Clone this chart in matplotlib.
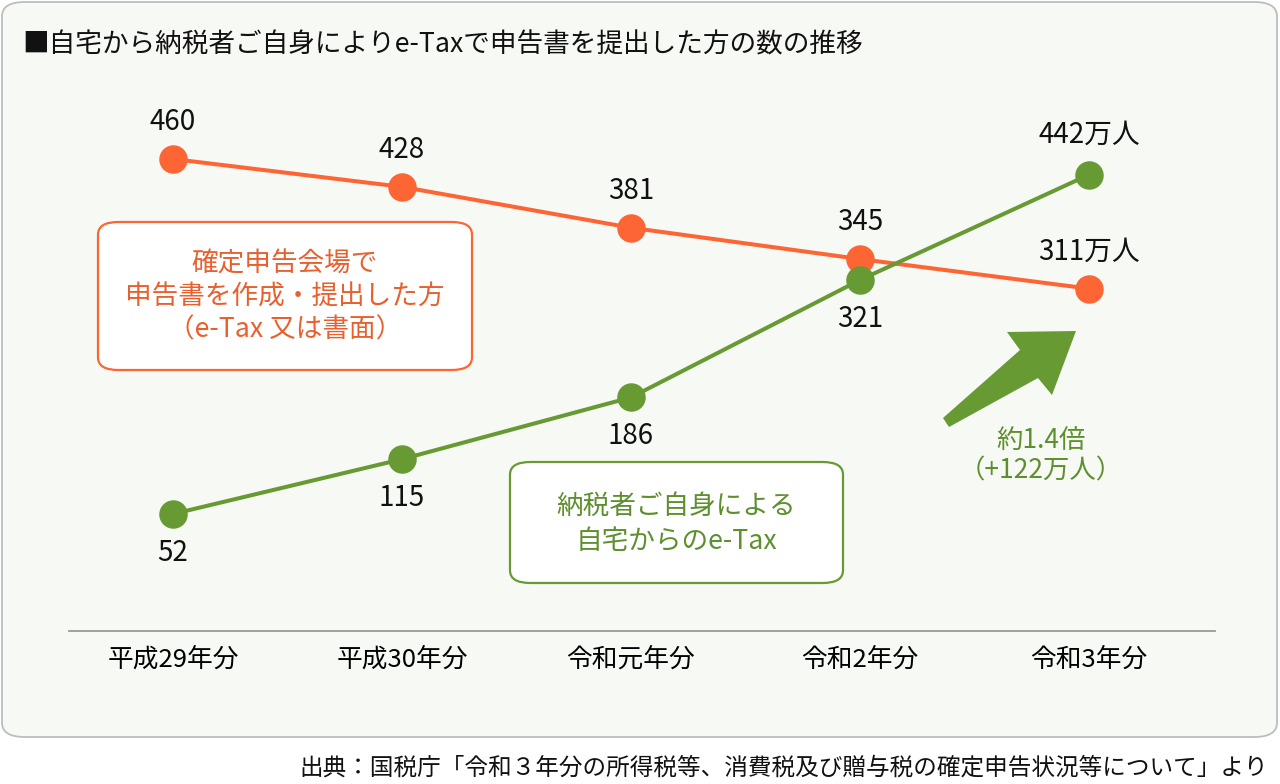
import matplotlib
matplotlib.use("Agg")
import matplotlib.pyplot as plt
from matplotlib.patches import FancyBboxPatch, Polygon

plt.rcParams['font.family'] = ['Noto Sans CJK JP', 'DejaVu Sans']

# データ（万人）
categories = ['平成29年分', '平成30年分', '令和元年分', '令和2年分', '令和3年分']
venue = [460, 428, 381, 345, 311]      # 確定申告会場で提出
home_etax = [52, 115, 186, 321, 442]   # 自宅からのe-Tax
venue_labels = ['460', '428', '381', '345', '311万人']
home_labels = ['52', '115', '186', '321', '442万人']

ORANGE = '#FD6535'
GREEN = '#679A33'
W, H = 1280, 784


def px(x, y):
    # ピクセル(左上原点) -> figure座標
    return x / W, 1 - y / H


fig = plt.figure(figsize=(12.8, 7.84), dpi=100)

# 背景パネル
panel = FancyBboxPatch(px(2, 737), 1275 / W, 735 / H,
                       boxstyle="round,pad=0,rounding_size=0.018",
                       transform=fig.transFigure, facecolor='#F7F9F4',
                       edgecolor='#BDBDBD', linewidth=1.3, zorder=-2)
fig.patches.append(panel)

ax = fig.add_axes([69 / W, 1 - 631 / H, 1146 / W, 571 / H])
ax.set_facecolor('none')
ax.set_zorder(3)
x = list(range(len(categories)))

ax.plot(x, venue, color=ORANGE, lw=2.9, marker='o', ms=19.5, zorder=3)
ax.plot(x, home_etax, color=GREEN, lw=2.9, marker='o', ms=19.5, zorder=4)

ax.set_xlim(-0.454, 4.55)
ax.set_ylim(-82.5, 573.8)

for i, (v, lab) in enumerate(zip(venue, venue_labels)):
    ax.annotate(lab, (i, v), xytext=(0, 26.5), textcoords='offset points',
                ha='center', va='center', fontsize=20, color='#111111')
for i, (v, lab) in enumerate(zip(home_etax, home_labels)):
    dy = 29 if i == len(home_etax) - 1 else -28
    ax.annotate(lab, (i, v), xytext=(0, dy), textcoords='offset points',
                ha='center', va='center', fontsize=20, color='#111111')

ax.set_xticks(x)
ax.set_xticklabels(categories, fontsize=18.5)
ax.tick_params(axis='x', length=0, pad=11)
ax.set_yticks([])
for s in ['top', 'left', 'right']:
    ax.spines[s].set_visible(False)
ax.spines['bottom'].set_color('#999999')
ax.spines['bottom'].set_linewidth(1.3)

# 凡例ボックス
box1 = FancyBboxPatch(px(98, 370), 374 / W, 148 / H,
                      boxstyle="round,pad=0,rounding_size=0.016",
                      transform=fig.transFigure, facecolor='white',
                      edgecolor=ORANGE, linewidth=1.6, zorder=1)
fig.patches.append(box1)
fig.text(*px(285, 297), '確定申告会場で\n申告書を作成・提出した方\n（e-Tax 又は書面）',
         ha='center', va='center', fontsize=19.2, color='#E9602F',
         linespacing=1.3)

box2 = FancyBboxPatch(px(510, 583), 333 / W, 121 / H,
                      boxstyle="round,pad=0,rounding_size=0.016",
                      transform=fig.transFigure, facecolor='white',
                      edgecolor=GREEN, linewidth=1.6, zorder=1)
fig.patches.append(box2)
fig.text(*px(676, 524), '納税者ご自身による\n自宅からのe-Tax',
         ha='center', va='center', fontsize=19.2, color='#5E8F2E',
         linespacing=1.4)

# 増加矢印
arrow_pts = [px(943, 418), px(1020, 350), px(1007, 332), px(1076, 331),
             px(1052, 395), px(1038, 378), px(949, 427)]
fig.patches.append(Polygon(arrow_pts, closed=True, transform=fig.transFigure,
                           facecolor=GREEN, edgecolor='none', zorder=2))
fig.text(*px(1041, 456), '約1.4倍\n（+122万人）', ha='center', va='center',
         fontsize=19, color='#5E8F2E', linespacing=1.15)

# タイトル・出典
fig.text(*px(22, 45), '■自宅から納税者ご自身によりe-Taxで申告書を提出した方の数の推移',
         ha='left', va='center', fontsize=19.2, color='#111111')
fig.text(*px(1268, 768),
         '出典：国税庁「令和３年分の所得税等、消費税及び贈与税の確定申告状況等について」より',
         ha='right', va='center', fontsize=17, color='#111111')

fig.savefig('out.png', dpi=100)
